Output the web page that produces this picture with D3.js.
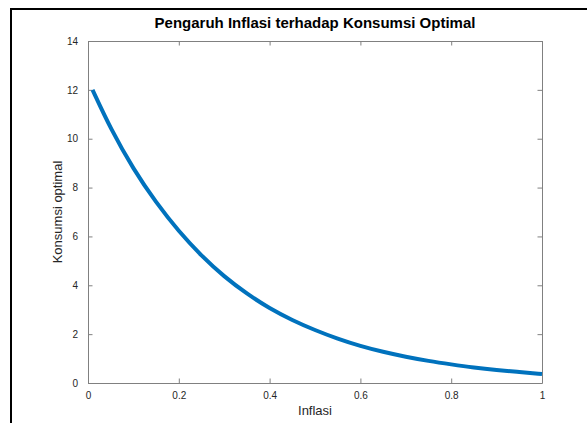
<!DOCTYPE html>
<html>
<head>
<meta charset="utf-8">
<script src="https://cdn.jsdelivr.net/npm/d3@7"></script>
<style>
    body { margin: 0; background: #fff; }
    svg { display: block; font-family: "Liberation Sans", Arial, Helvetica, sans-serif; }
    .axis path, .axis line { stroke: #808080; }
    .axis text { fill: #262626; font-size: 10px; }
</style>
</head>
<body>
<div id="chart"></div>
<script>

// values
var inflasi = [0.01, 0.05, 0.10, 0.15, 0.20, 0.25, 0.30, 0.35, 0.40, 0.45, 0.50,
    0.55, 0.60, 0.65, 0.70, 0.75, 0.80, 0.85, 0.90, 0.95, 1.00];
var konsumsi = [12.0, 10.4, 8.75, 7.38, 6.2, 5.2, 4.35, 3.65, 3.05, 2.57, 2.16,
    1.81, 1.51, 1.27, 1.07, 0.9, 0.76, 0.63, 0.53, 0.45, 0.37];
var xTicks = [0, 0.2, 0.4, 0.6, 0.8, 1];
var yTicks = [0, 2, 4, 6, 8, 10, 12, 14];

var width = 587, height = 423;
var margin = { top: 41, right: 45, bottom: 40, left: 88 };
var w = width - margin.left - margin.right,
    h = height - margin.top - margin.bottom;

var svg = d3.select("#chart").append("svg")
    .attr("width", width)
    .attr("height", height);

// outer frame (figure border)
svg.append("rect")
    .attr("x", 11).attr("y", 9)
    .attr("width", 620).attr("height", 500)
    .attr("fill", "none")
    .attr("stroke", "#000")
    .attr("stroke-width", 2);

var g = svg.append("g")
    .attr("transform", "translate(" + margin.left + "," + margin.top + ")");

var x = d3.scaleLinear().domain([0, 1]).range([0, w]);
var y = d3.scaleLinear().domain([0, 14]).range([h, 0]);

var fmt = function (d) { return d3.format("")(+d.toFixed(1)); };

// bottom + top
g.append("g").attr("class", "axis")
    .attr("transform", "translate(0," + h + ")")
    .call(d3.axisBottom(x).tickValues(xTicks).tickSizeInner(-4.5).tickSizeOuter(0).tickPadding(9).tickFormat(fmt));
g.append("g").attr("class", "axis")
    .call(d3.axisTop(x).tickValues(xTicks).tickSizeInner(-4.5).tickSizeOuter(0).tickFormat(""));

// left + right
g.append("g").attr("class", "axis")
    .call(d3.axisLeft(y).tickValues(yTicks).tickSizeInner(-4.5).tickSizeOuter(0).tickPadding(10));
g.append("g").attr("class", "axis")
    .attr("transform", "translate(" + w + ",0)")
    .call(d3.axisRight(y).tickValues(yTicks).tickSizeInner(-4.5).tickSizeOuter(0).tickFormat(""));

var data = inflasi.map(function (d, i) { return { x: d, y: konsumsi[i] }; });

var line = d3.line()
    .x(function (d) { return x(d.x); })
    .y(function (d) { return y(d.y); })
    .curve(d3.curveBasis);

g.append("path")
    .datum(data)
    .attr("fill", "none")
    .attr("stroke", "#0072BD")
    .attr("stroke-width", 4)
    .attr("d", line);

// title
svg.append("text")
    .attr("x", margin.left + w / 2)
    .attr("y", 28)
    .attr("text-anchor", "middle")
    .style("font-size", "15px")
    .style("font-weight", "bold")
    .text("Pengaruh Inflasi terhadap Konsumsi Optimal");

// axis titles
svg.append("text")
    .attr("x", margin.left + w / 2)
    .attr("y", 415)
    .attr("text-anchor", "middle")
    .style("font-size", "13px")
    .attr("fill", "#262626")
    .text("Inflasi");

svg.append("text")
    .attr("transform", "translate(62," + (margin.top + h / 2) + ") rotate(-90)")
    .attr("text-anchor", "middle")
    .style("font-size", "13px")
    .attr("fill", "#262626")
    .text("Konsumsi optimal");

</script>
</body>
</html>
